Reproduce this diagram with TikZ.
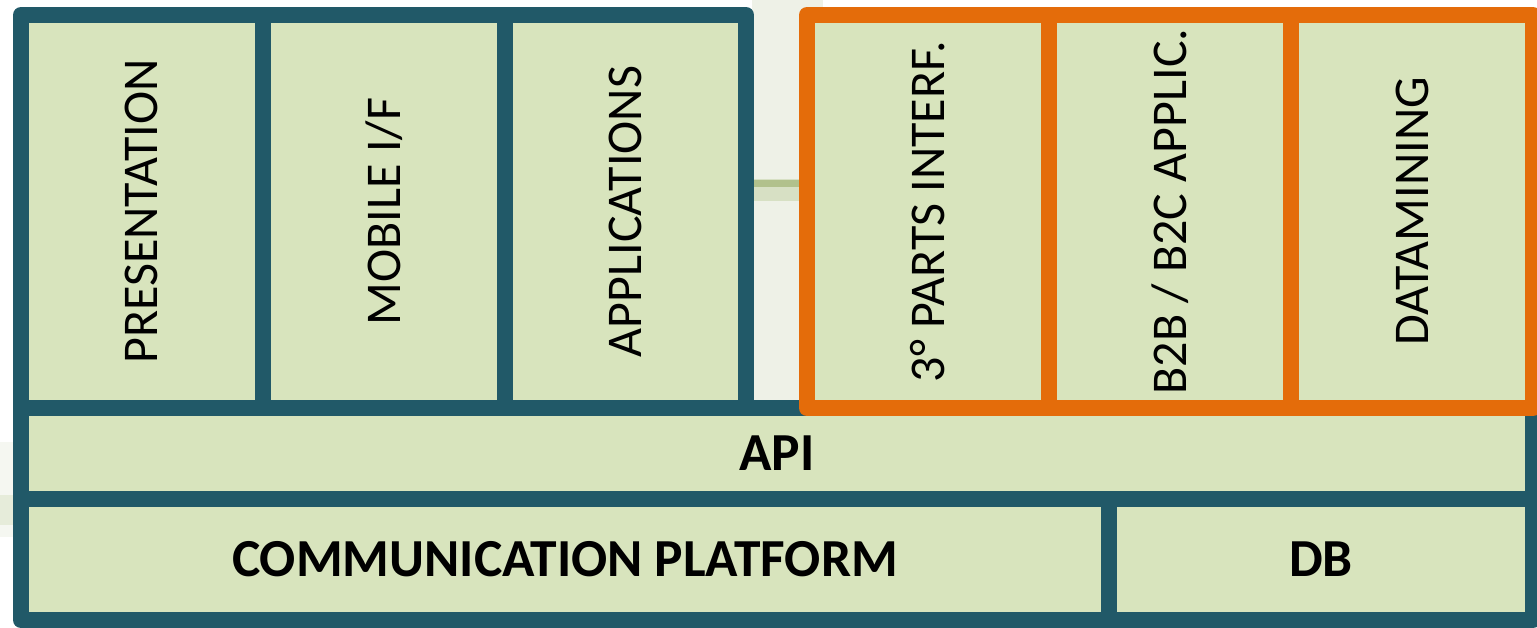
\documentclass[tikz,border=0pt]{standalone}
\usepackage{fontspec}
\setmainfont{Carlito}
\usepackage{graphicx}
\definecolor{teal5}{HTML}{215968}
\definecolor{orng}{HTML}{E46C0A}
\definecolor{cellfill}{HTML}{D8E4BD}
\definecolor{gapbg}{HTML}{EEF1E7}
\definecolor{blurgreen}{HTML}{9DB26F}
\definecolor{blurlight}{HTML}{CDD8B5}
\begin{document}
\begin{tikzpicture}[x=1pt,y=-1pt,
  cell/.style={rectangle,inner sep=0pt,outer sep=0pt,fill=cellfill,
    line width=16pt,line join=round,font=\fontsize{50}{60}\selectfont},
  tealcell/.style={cell,draw=teal5},
  orcell/.style={cell,draw=orng},
  boldcell/.style={tealcell,font=\fontsize{53.5}{64}\selectfont\bfseries}]
\useasboundingbox (0,0) rectangle (1537,628);
\fill[white] (0,0) rectangle (1537,628);
% faint background behind the blocks
\fill[gapbg] (752,0) rectangle (823,400);
\fill[gapbg!60!white] (0,442) rectangle (14,537);
\fill[blurlight!50!white] (0,495) rectangle (14,525);
\draw[blurlight!80!white,line width=22pt] (754,190) -- (799,190);
\draw[blurgreen!80!white,line width=7pt] (754,184) -- (799,184);
% teal group
\node[tealcell,minimum width=241.5pt,minimum height=393pt] (pres) at (141.75,211.5) {\rotatebox{90}{PRESENTATION}};
\node[tealcell,minimum width=242.5pt,minimum height=393pt] (mob) at (383.75,211.5) {\rotatebox{90}{MOBILE I/F}};
\node[tealcell,minimum width=241pt,minimum height=393pt] (app) at (625.5,211.5) {\rotatebox{90}{APPLICATIONS}};
\node[boldcell,minimum width=1512pt,minimum height=91pt] (api) at (777,453.5) {API};
\node[boldcell,minimum width=1088pt,minimum height=121pt] (comm) at (565,559.5) {COMMUNICATION PLATFORM};
\node[boldcell,minimum width=424pt,minimum height=121pt] (db) at (1321,559.5) {DB};
% orange group
\node[orcell,minimum width=242pt,minimum height=393pt] (third) at (928,211.5) {\rotatebox{90}{3° PARTS INTERF.}};
\node[orcell,minimum width=242pt,minimum height=393pt] (b2b) at (1170,211.5) {\rotatebox{90}{B2B / B2C APPLIC.}};
\node[orcell,minimum width=242pt,minimum height=393pt] (dm) at (1412,211.5) {\rotatebox{90}{DATAMINING}};
\end{tikzpicture}
\end{document}
